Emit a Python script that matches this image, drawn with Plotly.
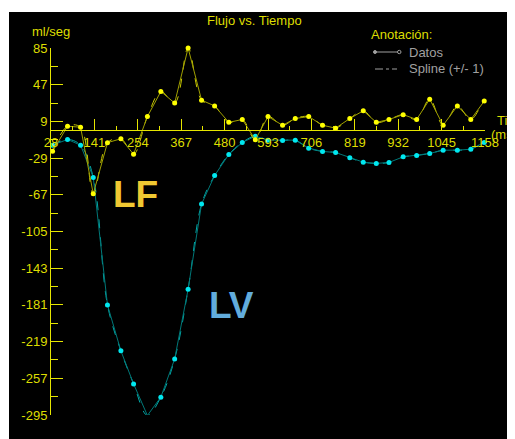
import plotly.graph_objects as go

# ---------------- data ----------------
time_ms = [32, 71, 105, 138, 175, 210, 243, 279, 314, 350, 385, 420, 454, 491, 526, 560,
           593, 631, 664, 699, 735, 769, 806, 841, 875, 908, 945, 980, 1014, 1049, 1086,
           1121, 1156, 1163]
lf_flow = [-22, 4, 3, -66, -13, -9, -25, 14, 40, 28, 85, 31, 25, 8, 11, -10,
           14, 5, 12, 14, 5, 2, 12, 20, 8, 11, 16, 11, 32, 5, 25,
           11, 30, 30]
lv_flow = [-15.6, -9.7, -15.6, -49, -181, -228.6, -262.8, -295.5, -276.5, -237, -164.8, -76.6,
           -47, -25.2, -12.8, -6.3, -10.4, -10.8, -10.4, -18.7, -22.1, -23.2, -28.7, -33.2,
           -34.5, -33.5, -27.7, -26.3, -24.2, -20.8, -20.8, -19.8, -12.8, -12.8]

x_tick_vals = [28, 141, 254, 367, 480, 593, 706, 819, 932, 1045, 1158]
x_tick_text = ["28", "141", "254", "367", "480", "593", "706", "819", "932", "1045", "1158"]
y_tick_vals = [85, 47, 9, -29, -67, -105, -143, -181, -219, -257, -295]
y_tick_text = ["85", "47", "9", "-29", "-67", "-105", "-143", "-181", "-219", "-257", "-295"]

title_text = "Flujo vs. Tiempo"
y_title = "ml/seg"
legend_title = "Anotación:"
legend_items = ["Datos", "Spline (+/- 1)"]

# ---------------- layout helpers ----------------
OFF = 8  # page body margin
W, H = 515, 439
ML, MR, MT, MB = 43, 38, 40, 32
PW, PH = W - ML - MR, H - MT - MB
FONT = "Liberation Sans, Arial, sans-serif"
AXC = "#e6e600"
LBL = "#dede00"
GREY = "#a0a0a0"


def fx(p):
    # p: pixel position in the screenshot
    return (p - OFF - ML) / PW


def fy(p):
    return (H - MB - (p - OFF)) / PH


fig = go.Figure()

# LV (cyan)
fig.add_trace(go.Scatter(x=time_ms, y=lv_flow, mode="lines",
                         line=dict(shape="spline", smoothing=1, dash="dash", color="#00a8a8", width=1),
                         cliponaxis=False, hoverinfo="skip"))
fig.add_trace(go.Scatter(x=time_ms, y=lv_flow, mode="lines+markers",
                         line=dict(color="#007878", width=1),
                         marker=dict(size=5, color="#00e8f0"),
                         cliponaxis=False))
# LF (yellow)
fig.add_trace(go.Scatter(x=time_ms, y=lf_flow, mode="lines",
                         line=dict(shape="spline", smoothing=1, dash="dash", color="#c8c800", width=1),
                         cliponaxis=False, hoverinfo="skip"))
fig.add_trace(go.Scatter(x=time_ms, y=lf_flow, mode="lines+markers",
                         line=dict(color="#a0a000", width=1),
                         marker=dict(size=5, color="#ffff00"),
                         cliponaxis=False))

ymin, ymax = -295, 85
fig.update_layout(
    width=W, height=H, showlegend=False,
    paper_bgcolor="white", plot_bgcolor="black",
    margin=dict(l=ML, r=MR, t=MT, b=MB, pad=0),
    font=dict(family=FONT, size=13, color=LBL),
    xaxis=dict(range=[28, 1158], anchor="free", position=(0 - ymin) / (ymax - ymin),
               showgrid=False, zeroline=False, showline=True, linecolor=AXC, linewidth=1,
               tickmode="array", tickvals=x_tick_vals, ticktext=x_tick_text,
               ticks="inside", ticklen=11, tickcolor=AXC, tickwidth=1,
               minor=dict(ticks="inside", ticklen=4, tickcolor=AXC, tick0=28, dtick=56.5, showgrid=False),
               tickfont=dict(size=13, color=LBL, family=FONT)),
    yaxis=dict(range=[ymin, ymax], showgrid=False, zeroline=False, showline=True,
               linecolor=AXC, linewidth=1,
               tickmode="array", tickvals=y_tick_vals, ticktext=y_tick_text,
               ticks="inside", ticklen=12, tickcolor=AXC, tickwidth=1,
               minor=dict(ticks="inside", ticklen=7, tickcolor=AXC, tick0=-295, dtick=19, showgrid=False),
               tickfont=dict(size=13, color=LBL, family=FONT)),
)

# black canvas with white strips on top and left
fig.add_shape(type="rect", xref="paper", yref="paper", layer="below",
              x0=fx(9), x1=fx(540), y0=fy(460), y1=fy(12),
              fillcolor="black", line=dict(width=0))

ann = []
ann.append(dict(text=title_text, x=fx(254), y=fy(21), xanchor="center", yanchor="middle",
                font=dict(size=13, color=LBL, family=FONT)))
ann.append(dict(text=y_title, x=fx(51), y=fy(31), xanchor="center", yanchor="middle",
                font=dict(size=13, color=LBL, family=FONT)))
ann.append(dict(text="Tiempo", x=fx(495), y=fy(120), xanchor="left", yanchor="middle",
                font=dict(size=13, color=LBL, family=FONT)))
ann.append(dict(text="(ms)", x=fx(489), y=fy(135), xanchor="left", yanchor="middle",
                font=dict(size=13, color=LBL, family=FONT)))
ann.append(dict(text=legend_title, x=fx(369), y=fy(34), xanchor="left", yanchor="middle",
                font=dict(size=13, color=LBL, family=FONT)))
ann.append(dict(text=legend_items[0], x=fx(407), y=fy(52), xanchor="left", yanchor="middle",
                font=dict(size=13, color=GREY, family=FONT)))
ann.append(dict(text=legend_items[1], x=fx(407), y=fy(69), xanchor="left", yanchor="middle",
                font=dict(size=13, color=GREY, family=FONT)))
ann.append(dict(text="<b>LF</b>", x=fx(135), y=fy(194), xanchor="center", yanchor="middle",
                font=dict(size=37, color="#f0c832", family=FONT)))
ann.append(dict(text="<b>LV</b>", x=fx(231), y=fy(305), xanchor="center", yanchor="middle",
                font=dict(size=37, color="#62acdc", family=FONT)))
for a in ann:
    a.update(xref="paper", yref="paper", showarrow=False)
fig.update_layout(annotations=ann)

# legend symbols
fig.add_shape(type="line", xref="paper", yref="paper", x0=fx(375), x1=fx(398), y0=fy(52), y1=fy(52),
              line=dict(color=GREY, width=1))
fig.add_shape(type="circle", xref="paper", yref="paper", x0=fx(373.5), x1=fx(376.5), y0=fy(53.5), y1=fy(50.5),
              fillcolor=GREY, line=dict(color=GREY, width=1))
fig.add_shape(type="circle", xref="paper", yref="paper", x0=fx(397.5), x1=fx(401), y0=fy(53.7), y1=fy(50.3),
              fillcolor="black", line=dict(color=GREY, width=1))
fig.add_shape(type="line", xref="paper", yref="paper", x0=fx(375), x1=fx(397), y0=fy(69), y1=fy(69),
              line=dict(color=GREY, width=1, dash="8px,3px,3px,3px"))

fig.write_html("out.html")
